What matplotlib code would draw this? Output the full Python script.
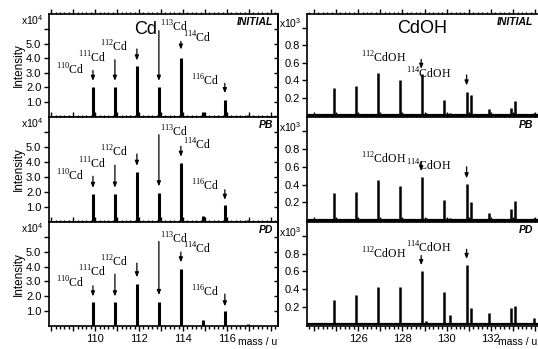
import matplotlib
matplotlib.use('Agg')
import matplotlib.pyplot as plt
from matplotlib.ticker import MultipleLocator, FixedLocator, FuncFormatter
import matplotlib.transforms as mtransforms

plt.rcParams['font.family'] = ['Liberation Sans', 'DejaVu Sans']
plt.rcParams['mathtext.fontset'] = 'custom'
plt.rcParams['mathtext.rm'] = 'Liberation Serif'
plt.rcParams['mathtext.sf'] = 'Liberation Sans'

panels = ['INITIAL', 'PB', 'PD']

# Cd region (x10^4)
cd_mass = [108.95, 109.9, 110.9, 111.9, 112.9, 113.9, 114.9, 115.9, 116.95]
cd_int = [
    [0.05, 2.0, 2.0, 3.45, 2.0, 4.05, 0.3, 1.13, 0.1],
    [0.05, 1.87, 1.87, 3.33, 1.9, 3.92, 0.35, 1.12, 0.1],
    [0.05, 1.57, 1.57, 2.83, 1.57, 3.85, 0.36, 1.0, 0.1],
]
cd_labels = ['110', '111', '112', '113', '114', '116']
cd_lab_x = [108.85, 109.85, 110.88, 113.6, 114.62, 115.0]
cd_lab_y = [
    [3.2, 4.05, 4.8, 6.15, 5.38, 2.44],
    [3.1, 3.9, 4.7, 6.03, 5.18, 2.37],
    [2.87, 3.67, 4.36, 5.9, 5.18, 2.26],
]
cd_arr_x = [109.9, 110.9, 111.9, 112.9, 113.9, 115.9]
cd_arr_top = [
    [3.17, 3.9, 4.64, 5.9, 5.16, 2.28],
    [3.05, 3.8, 4.55, 5.85, 5.07, 2.14],
    [2.7, 3.5, 4.25, 5.72, 5.0, 2.14],
]
cd_arr_end = [
    [2.45, 2.45, 3.85, 2.45, 4.6, 1.6],
    [2.26, 2.28, 3.75, 2.37, 4.36, 1.46],
    [1.98, 1.98, 3.28, 2.07, 4.3, 1.3],
]

# CdOH region (x10^3)
oh_mass = [124.9, 125.9, 126.9, 127.9, 128.9, 129.05, 129.9, 130.15,
           130.9, 131.08, 131.9, 132.9, 133.08, 133.95]
oh_int = [
    [0.31, 0.33, 0.48, 0.40, 0.47, 0.03, 0.17, 0.03, 0.26, 0.23, 0.07, 0.08, 0.16, 0.02],
    [0.30, 0.32, 0.45, 0.38, 0.48, 0.03, 0.23, 0.03, 0.41, 0.20, 0.08, 0.13, 0.21, 0.02],
    [0.28, 0.33, 0.42, 0.42, 0.60, 0.04, 0.37, 0.10, 0.67, 0.18, 0.13, 0.18, 0.21, 0.07],
]
oh_labels = ['112', '114']
oh_lab_x = [127.15, 129.2]
oh_lab_y = [[0.66, 0.47], [0.69, 0.61], [0.80, 0.87]]
oh_arr_x = [128.85, 130.9]
oh_arr_top = [[0.64, 0.46], [0.66, 0.60], [0.78, 0.85]]
oh_arr_end = [[0.53, 0.34], [0.55, 0.47], [0.67, 0.74]]
oh_baseline = 0.005

rows = [(0.665, 0.295), (0.364, 0.301), (0.066, 0.298)]

fig = plt.figure(figsize=(5.38, 3.49), dpi=100)


def style_axis(ax, bottom_row):
    for s in ax.spines.values():
        s.set_linewidth(1.2)
    ax.xaxis.set_major_locator(MultipleLocator(1))
    ax.xaxis.set_minor_locator(MultipleLocator(0.2))
    ax.tick_params(which='both', direction='out', top=True, labelsize=8, width=1)
    ax.tick_params(which='major', length=3.5, pad=2)
    ax.tick_params(which='minor', length=1.8)
    if not bottom_row:
        ax.tick_params(axis='x', labelbottom=False)


def arrow(ax, x, y0, y1):
    ax.annotate('', xy=(x, y1), xytext=(x, y0),
                arrowprops=dict(arrowstyle='-|>,head_length=0.28,head_width=0.11',
                                color='black', lw=0.9, shrinkA=0, shrinkB=0))


for i, name in enumerate(panels):
    b, h = rows[i]
    last = i == len(panels) - 1

    # left: Cd
    ax = fig.add_axes([0.091, b, 0.425, h])
    ax.vlines(cd_mass, 0, cd_int[i], color='black', lw=2.2)
    for x, y0, y1 in zip(cd_arr_x, cd_arr_top[i], cd_arr_end[i]):
        arrow(ax, x, y0, y1)
    for lbl, lx, ly in zip(cd_labels, cd_lab_x, cd_lab_y[i]):
        ax.text(lx, ly, r'$^{%s}$Cd' % lbl, family='Liberation Serif',
                fontsize=8.5, ha='center', va='center')
    ax.set_xlim(107.9, 118.3)
    ax.set_ylim(-0.03, 7.05)
    ax.yaxis.set_major_locator(FixedLocator([1, 2, 3, 4, 5, 6]))
    ax.yaxis.set_major_formatter(FuncFormatter(
        lambda v, p: '%.1f' % v if v < 5.5 else ''))
    style_axis(ax, last)
    sec = ax.secondary_yaxis('right')
    sec.yaxis.set_major_locator(FixedLocator([1, 2, 3, 4, 5, 6]))
    sec.tick_params(direction='in', length=3, width=1, labelright=False)
    sec.spines['right'].set_linewidth(1.2)
    trans = mtransforms.blended_transform_factory(ax.transAxes, ax.transData)
    ax.text(-0.025, 6.6, r'x10$^\mathsf{4}$', transform=trans, ha='right',
            va='center', fontsize=7.5)
    ax.set_ylabel('Intensity', fontsize=8.5, labelpad=1)
    ax.text(0.98, 0.92, name, transform=ax.transAxes, ha='right', va='center',
            fontsize=7.5, fontweight='bold', fontstyle='italic')
    if i == 0:
        ax.text(112.3, 5.95, 'Cd', fontsize=13, ha='center', va='center')
    if last:
        ax.xaxis.set_major_formatter(FuncFormatter(
            lambda v, p: '%d' % v if (round(v) % 2 == 0 and 109 < v < 117) else ''))
        ax.text(1.0, -0.155, 'mass / u', transform=ax.transAxes, ha='right',
                va='center', fontsize=7.5)

    # right: CdOH
    ax2 = fig.add_axes([0.571, b, 0.43, h])
    ax2.axhline(oh_baseline, color='black', lw=1.6)
    ax2.vlines(oh_mass, 0, oh_int[i], color='black', lw=1.8)
    for x, y0, y1 in zip(oh_arr_x, oh_arr_top[i], oh_arr_end[i]):
        arrow(ax2, x, y0, y1)
    for lbl, lx, ly in zip(oh_labels, oh_lab_x, oh_lab_y[i]):
        ax2.text(lx, ly, r'$^{%s}$CdOH' % lbl, family='Liberation Serif',
                 fontsize=8.5, ha='center', va='center')
    ax2.set_xlim(123.7, 134.15)
    ax2.set_ylim(-0.02, 1.16)
    ax2.yaxis.set_major_locator(FixedLocator([0.2, 0.4, 0.6, 0.8, 1.0]))
    ax2.yaxis.set_major_formatter(FuncFormatter(
        lambda v, p: '%.1f' % v if v < 0.9 else ''))
    style_axis(ax2, last)
    trans2 = mtransforms.blended_transform_factory(ax2.transAxes, ax2.transData)
    ax2.text(-0.025, 1.05, r'x10$^\mathsf{3}$', transform=trans2, ha='right',
             va='center', fontsize=7.5)
    ax2.text(0.975, 0.92, name, transform=ax2.transAxes, ha='right', va='center',
             fontsize=7.5, fontweight='bold', fontstyle='italic')
    if i == 0:
        ax2.text(128.9, 0.99, 'CdOH', fontsize=13, ha='center', va='center')
    if last:
        ax2.xaxis.set_major_formatter(FuncFormatter(
            lambda v, p: '%d' % v if (round(v) % 2 == 0 and 125 < v < 133) else ''))
        ax2.text(0.995, -0.155, 'mass / u', transform=ax2.transAxes, ha='right',
                 va='center', fontsize=7.5)

fig.savefig('out.png', dpi=100)
